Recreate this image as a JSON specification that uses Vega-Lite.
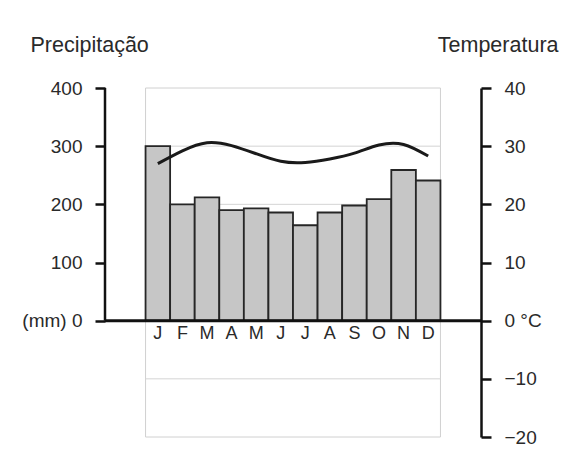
{
  "$schema": "https://vega.github.io/schema/vega-lite/v6.json",
  "width": 376,
  "height": 349,
  "autosize": "none",
  "padding": {"left": 105, "top": 88, "right": 93, "bottom": 23},
  "background": "white",
  "config": {
    "view": {"stroke": null},
    "font": "Liberation Sans"
  },
  "datasets": {
    "clima": [
      {"mes": "Jan", "precip": 300, "temp": 27.0},
      {"mes": "Fev", "precip": 200, "temp": 29.2},
      {"mes": "Mar", "precip": 212, "temp": 30.6},
      {"mes": "Abr", "precip": 190, "temp": 30.1},
      {"mes": "Mai", "precip": 193, "temp": 28.7},
      {"mes": "Jun", "precip": 186, "temp": 27.4},
      {"mes": "Jul", "precip": 164, "temp": 27.2},
      {"mes": "Ago", "precip": 186, "temp": 27.8},
      {"mes": "Set", "precip": 198, "temp": 28.8},
      {"mes": "Out", "precip": 209, "temp": 30.2},
      {"mes": "Nov", "precip": 259, "temp": 30.3},
      {"mes": "Dez", "precip": 241, "temp": 28.3}
    ],
    "grade": [{"nivel": 300}, {"nivel": 200}, {"nivel": 100}, {"nivel": -100}]
  },
  "layer": [
    {
      "layer": [
        {
          "data": {"values": [{}]},
          "mark": {"type": "rect", "filled": false, "color": "#d0d0d0", "strokeWidth": 1},
          "encoding": {
            "x": {"datum": "Jan", "type": "nominal", "bandPosition": 0,
                  "scale": {"type": "band", "domain": ["", "Jan","Fev","Mar","Abr","Mai","Jun","Jul","Ago","Set","Out","Nov","Dez", " "], "paddingInner": 0, "paddingOuter": 0.65},
                  "axis": {"orient": "bottom", "offset": -117, "domain": false, "ticks": false, "grid": false, "labelAngle": 0,
                           "labelFontSize": 18, "labelColor": "#2a2a2a", "labelPadding": 4, "title": null,
                           "labelExpr": "substring(datum.label, 0, 1)"}},
            "x2": {"datum": "Dez", "bandPosition": 1},
            "y": {"datum": 400, "type": "quantitative",
                  "scale": {"domain": [-200, 400], "nice": false, "zero": false},
                  "axis": {"orient": "left", "values": [0, 100, 200, 300, 400], "domain": false, "grid": false,
                           "tickSize": 10, "tickWidth": 2.5, "tickColor": "#111",
                           "labelFontSize": 19, "labelColor": "#2a2a2a", "labelPadding": 13,
                           "labelExpr": "datum.value == 0 ? '(mm) 0' : datum.label",
                           "title": "Precipitação", "titleAngle": 0, "titleAlign": "left", "titleBaseline": "alphabetic",
                           "titleX": -75, "titleY": -37, "titleFontSize": 21.5, "titleFontWeight": "normal", "titleColor": "#2a2a2a"}},
            "y2": {"datum": -200}
          }
        },
        {
          "data": {"name": "grade"},
          "mark": {"type": "rule", "color": "#d4d4d4", "strokeWidth": 1},
          "encoding": {
            "x": {"datum": "Jan", "type": "nominal", "bandPosition": 0,
                  "scale": {"type": "band", "domain": ["", "Jan","Fev","Mar","Abr","Mai","Jun","Jul","Ago","Set","Out","Nov","Dez", " "], "paddingInner": 0, "paddingOuter": 0.65}},
            "x2": {"datum": "Dez", "bandPosition": 1},
            "y": {"field": "nivel", "type": "quantitative"}
          }
        },
        {
          "data": {"name": "clima"},
          "mark": {"type": "bar", "fill": "#c6c6c6", "stroke": "#262626", "strokeWidth": 1.8},
          "encoding": {
            "x": {"field": "mes", "type": "nominal", "sort": null,
                  "scale": {"type": "band", "domain": ["", "Jan","Fev","Mar","Abr","Mai","Jun","Jul","Ago","Set","Out","Nov","Dez", " "], "paddingInner": 0, "paddingOuter": 0.65}},
            "y": {"field": "precip", "type": "quantitative"}
          }
        },
        {
          "data": {"values": [{}]},
          "mark": {"type": "rule", "color": "#111", "strokeWidth": 3},
          "encoding": {
            "y": {"datum": 0, "type": "quantitative"}
          }
        },
        {
          "data": {"values": [{}]},
          "mark": {"type": "rule", "color": "#111", "strokeWidth": 2.5},
          "encoding": {
            "x": {"datum": "Jan", "type": "nominal", "bandPosition": -1.65,
                  "scale": {"type": "band", "domain": ["", "Jan","Fev","Mar","Abr","Mai","Jun","Jul","Ago","Set","Out","Nov","Dez", " "], "paddingInner": 0, "paddingOuter": 0.65}},
            "y": {"datum": 0, "type": "quantitative"},
            "y2": {"datum": 400}
          }
        }
      ]
    },
    {
      "data": {"name": "clima"},
      "mark": {"type": "line", "interpolate": "natural", "color": "#1a1a1a", "strokeWidth": 3},
      "encoding": {
        "x": {"field": "mes", "type": "nominal", "sort": null,
              "scale": {"type": "band", "domain": ["", "Jan","Fev","Mar","Abr","Mai","Jun","Jul","Ago","Set","Out","Nov","Dez", " "], "paddingInner": 0, "paddingOuter": 0.65}},
        "y": {"field": "temp", "type": "quantitative",
              "scale": {"domain": [-20, 40], "nice": false, "zero": false},
              "axis": {"orient": "right", "values": [-20, -10, 0, 10, 20, 30, 40], "domain": true, "domainWidth": 2.5, "domainColor": "#111", "grid": false,
                       "tickSize": 10, "tickWidth": 2.5, "tickColor": "#111",
                       "labelFontSize": 19, "labelColor": "#2a2a2a", "labelPadding": 13,
                       "labelExpr": "datum.value == 0 ? '0 °C' : datum.label",
                       "title": "Temperatura", "titleAngle": 0, "titleAlign": "right", "titleBaseline": "alphabetic",
                       "titleX": 77, "titleY": -37, "titleFontSize": 21.5, "titleFontWeight": "normal", "titleColor": "#2a2a2a"}}
      }
    }
  ],
  "resolve": {"scale": {"y": "independent"}}
}
